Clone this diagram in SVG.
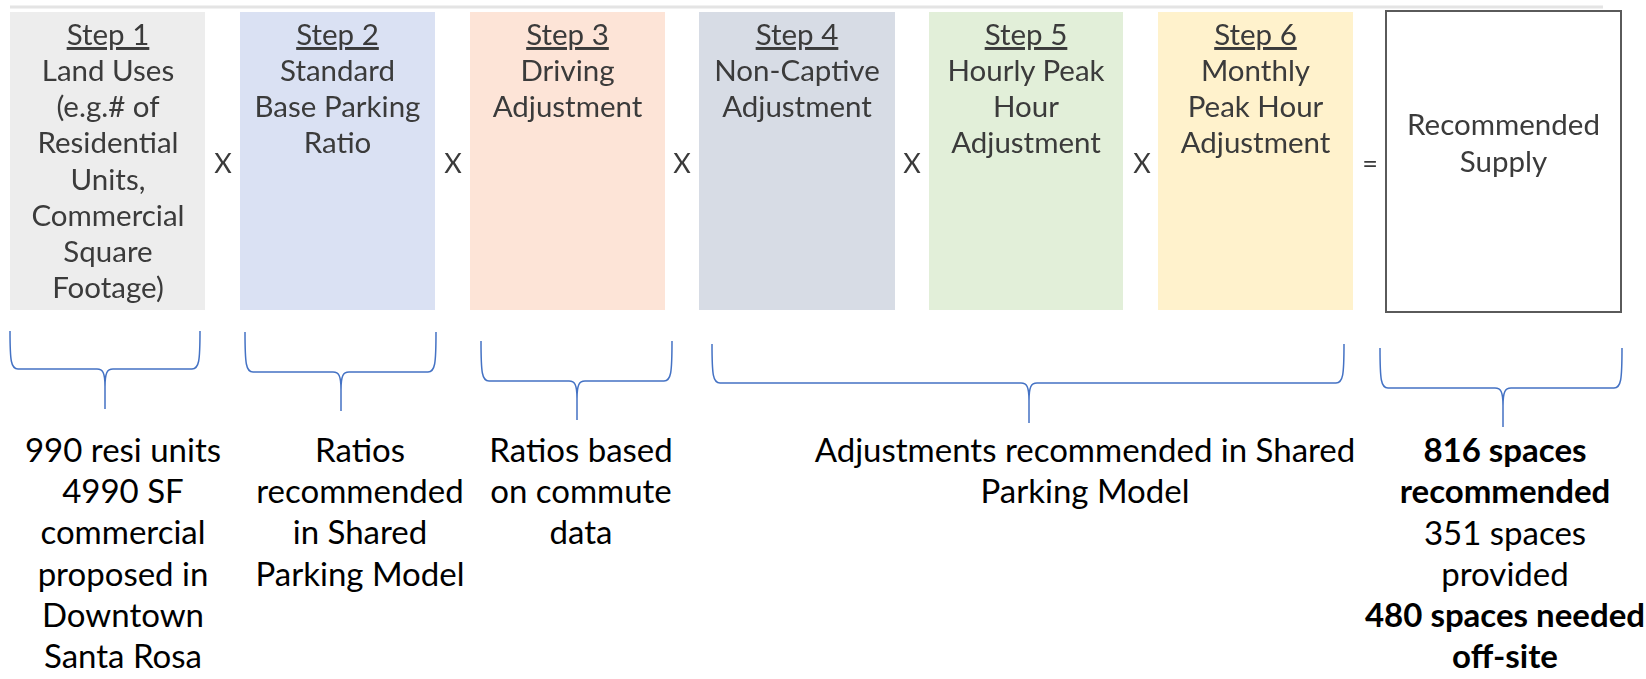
<svg xmlns="http://www.w3.org/2000/svg" width="1646" height="679" viewBox="0 0 1646 679">
  <style>
    .step { stroke: none; }
    .t { font-family: Lato, "Liberation Sans", sans-serif; font-size: 29.5px; fill: #3a3a3a; text-anchor: middle; }
    .title { text-decoration: underline; }
    .op { font-family: Lato, "Liberation Sans", sans-serif; font-size: 27px; fill: #3a3a3a; text-anchor: middle; }
    .note { font-family: Lato, "Liberation Sans", sans-serif; font-size: 33px; fill: #000; text-anchor: middle; }
    .b { font-weight: bold; }
    .brace { fill: none; stroke: #4472c4; stroke-width: 1.5; }
  </style>
  <defs>
    <filter id="soft" x="-5%" y="-5%" width="110%" height="110%">
      <feGaussianBlur stdDeviation="0.5"/>
    </filter>
  </defs>

  <rect width="1646" height="679" fill="#ffffff"/>

  <g id="steps" filter="url(#soft)">
    <!-- thin rule above the step boxes -->
    <line x1="10" y1="7" x2="1603" y2="7" stroke="#e4e4e4" stroke-width="3"/>

    <g id="step1">
      <rect class="step" x="10" y="12" width="195" height="298" fill="#ededed"/>
      <text class="t" x="108" y="45"><tspan class="title">Step 1</tspan></text>
      <text class="t" x="108" y="81">Land Uses</text>
      <text class="t" x="108" y="117">(e.g.# of</text>
      <text class="t" x="108" y="153">Residential</text>
      <text class="t" x="108" y="190">Units,</text>
      <text class="t" x="108" y="226">Commercial</text>
      <text class="t" x="108" y="262">Square</text>
      <text class="t" x="108" y="298">Footage)</text>
    </g>

    <g id="step2">
      <rect class="step" x="240" y="12" width="195" height="298" fill="#dae1f3"/>
      <text class="t" x="337.5" y="45"><tspan class="title">Step 2</tspan></text>
      <text class="t" x="337.5" y="81">Standard</text>
      <text class="t" x="337.5" y="117">Base Parking</text>
      <text class="t" x="337.5" y="153">Ratio</text>
    </g>

    <g id="step3">
      <rect class="step" x="470" y="12" width="195" height="298" fill="#fde4d7"/>
      <text class="t" x="567.5" y="45"><tspan class="title">Step 3</tspan></text>
      <text class="t" x="567.5" y="81">Driving</text>
      <text class="t" x="567.5" y="117">Adjustment</text>
    </g>

    <g id="step4">
      <rect class="step" x="699" y="12" width="196" height="298" fill="#d7dce5"/>
      <text class="t" x="797" y="45"><tspan class="title">Step 4</tspan></text>
      <text class="t" x="797" y="81">Non-Captive</text>
      <text class="t" x="797" y="117">Adjustment</text>
    </g>

    <g id="step5">
      <rect class="step" x="929" y="12" width="194" height="298" fill="#e2efd9"/>
      <text class="t" x="1026" y="45"><tspan class="title">Step 5</tspan></text>
      <text class="t" x="1026" y="81">Hourly Peak</text>
      <text class="t" x="1026" y="117">Hour</text>
      <text class="t" x="1026" y="153">Adjustment</text>
    </g>

    <g id="step6">
      <rect class="step" x="1158" y="12" width="195" height="298" fill="#fff2cc"/>
      <text class="t" x="1255.5" y="45"><tspan class="title">Step 6</tspan></text>
      <text class="t" x="1255.5" y="81">Monthly</text>
      <text class="t" x="1255.5" y="117">Peak Hour</text>
      <text class="t" x="1255.5" y="153">Adjustment</text>
    </g>

    <g id="result">
      <rect x="1386" y="11" width="235" height="301" fill="#ffffff" stroke="#5a5a5a" stroke-width="2"/>
      <text class="t" x="1503.5" y="135">Recommended</text>
      <text class="t" x="1503.5" y="172">Supply</text>
    </g>

    <!-- operators between the steps -->
    <g id="operators">
      <text class="op" x="223" y="173">X</text>
      <text class="op" x="453" y="173">X</text>
      <text class="op" x="682" y="173">X</text>
      <text class="op" x="912" y="173">X</text>
      <text class="op" x="1142" y="173">X</text>
      <text class="op" x="1370" y="173">=</text>
    </g>
  </g>

  <!-- braces grouping the steps -->
  <g id="connectors">
    <path class="brace" d="M10,331 C10,361 11,369 18,369 H97 C103,369 105,373 105,387 V409 M200,331 C200,361 199,369 192,369 H113 C107,369 105,373 105,387"/>
    <path class="brace" d="M245,332 C245,364 246,372 253,372 H333 C339,372 341,376 341,390 V411 M436,332 C436,364 435,372 428,372 H349 C343,372 341,376 341,390"/>
    <path class="brace" d="M481,341 C481,373 482,381 489,381 H569 C575,381 577,385 577,399 V420 M672,341 C672,373 671,381 664,381 H585 C579,381 577,385 577,399"/>
    <path class="brace" d="M712,344 C712,375 713,383 720,383 H1021 C1027,383 1029,387 1029,401 V423 M1344,344 C1344,375 1343,383 1336,383 H1037 C1031,383 1029,387 1029,401"/>
    <path class="brace" d="M1380,348 C1380,380 1381,388 1388,388 H1495 C1501,388 1503,392 1503,406 V427 M1622,348 C1622,380 1621,388 1614,388 H1511 C1505,388 1503,392 1503,406"/>
  </g>

  <g id="note1">
    <text class="note" x="123" y="462">990 resi units</text>
    <text class="note" x="123" y="503">4990 SF</text>
    <text class="note" x="123" y="544">commercial</text>
    <text class="note" x="123" y="586">proposed in</text>
    <text class="note" x="123" y="627">Downtown</text>
    <text class="note" x="123" y="668">Santa Rosa</text>
  </g>

  <g id="note2">
    <text class="note" x="360" y="462">Ratios</text>
    <text class="note" x="360" y="503">recommended</text>
    <text class="note" x="360" y="544">in Shared</text>
    <text class="note" x="360" y="586">Parking Model</text>
  </g>

  <g id="note3">
    <text class="note" x="581" y="462">Ratios based</text>
    <text class="note" x="581" y="503">on commute</text>
    <text class="note" x="581" y="544">data</text>
  </g>

  <g id="note4">
    <text class="note" x="1085" y="462">Adjustments recommended in Shared</text>
    <text class="note" x="1085" y="503">Parking Model</text>
  </g>

  <g id="note5">
    <text class="note b" x="1505" y="462">816 spaces</text>
    <text class="note b" x="1505" y="503">recommended</text>
    <text class="note" x="1505" y="545">351 spaces</text>
    <text class="note" x="1505" y="586">provided</text>
    <text class="note b" x="1505" y="627">480 spaces needed</text>
    <text class="note b" x="1505" y="668">off-site</text>
  </g>
</svg>
